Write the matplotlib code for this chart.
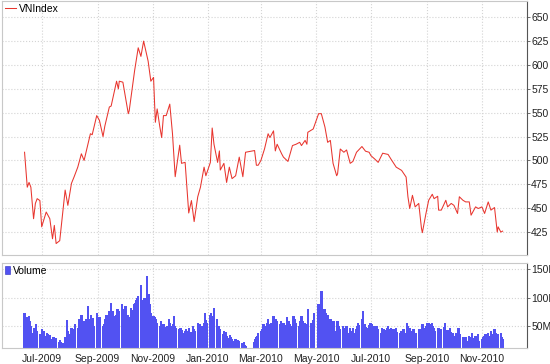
import matplotlib
matplotlib.use("Agg")
import matplotlib.pyplot as plt
import matplotlib.dates as mdates
from matplotlib.patches import Patch
import pandas as pd

# VNIndex close
price_dates = [
    "2009-06-12", "2009-06-15", "2009-06-17", "2009-06-19", "2009-06-22", "2009-06-24",
    "2009-06-26", "2009-06-29", "2009-07-01", "2009-07-06", "2009-07-10", "2009-07-13",
    "2009-07-15", "2009-07-17", "2009-07-21", "2009-07-27", "2009-07-30", "2009-08-03",
    "2009-08-06", "2009-08-10", "2009-08-14", "2009-08-17", "2009-08-24", "2009-08-26",
    "2009-08-31", "2009-09-03", "2009-09-07", "2009-09-09", "2009-09-14", "2009-09-16",
    "2009-09-22", "2009-09-24", "2009-09-25", "2009-09-29", "2009-10-05", "2009-10-06",
    "2009-10-12", "2009-10-16", "2009-10-19", "2009-10-22", "2009-10-27", "2009-10-30",
    "2009-11-02", "2009-11-04", "2009-11-06", "2009-11-09", "2009-11-11", "2009-11-13",
    "2009-11-16", "2009-11-20", "2009-11-23", "2009-11-26", "2009-12-01", "2009-12-03",
    "2009-12-07", "2009-12-11", "2009-12-14", "2009-12-17", "2009-12-21", "2009-12-24",
    "2009-12-28", "2009-12-30", "2010-01-04", "2010-01-06", "2010-01-08", "2010-01-12",
    "2010-01-14", "2010-01-15", "2010-01-19", "2010-01-22", "2010-01-25", "2010-01-28",
    "2010-02-01", "2010-02-05", "2010-02-09", "2010-02-12", "2010-02-22", "2010-02-24",
    "2010-02-26", "2010-03-01", "2010-03-05", "2010-03-09", "2010-03-11", "2010-03-15",
    "2010-03-17", "2010-03-19", "2010-03-24", "2010-03-26", "2010-03-31", "2010-04-05",
    "2010-04-09", "2010-04-13", "2010-04-15", "2010-04-19", "2010-04-21", "2010-04-22",
    "2010-04-28", "2010-05-04", "2010-05-07", "2010-05-11", "2010-05-14", "2010-05-17",
    "2010-05-20", "2010-05-24", "2010-05-25", "2010-05-28", "2010-06-01", "2010-06-04",
    "2010-06-08", "2010-06-11", "2010-06-15", "2010-06-21", "2010-06-25", "2010-06-29",
    "2010-07-01", "2010-07-05", "2010-07-09", "2010-07-14", "2010-07-20", "2010-07-23",
    "2010-07-29", "2010-08-04", "2010-08-09", "2010-08-11", "2010-08-13", "2010-08-16",
    "2010-08-19", "2010-08-23", "2010-08-26", "2010-08-27", "2010-08-31", "2010-09-03",
    "2010-09-07", "2010-09-09", "2010-09-13", "2010-09-14", "2010-09-17", "2010-09-22",
    "2010-09-24", "2010-09-28", "2010-10-01", "2010-10-05", "2010-10-07", "2010-10-11",
    "2010-10-14", "2010-10-18", "2010-10-20", "2010-10-25", "2010-10-28", "2010-11-01",
    "2010-11-04", "2010-11-08", "2010-11-11", "2010-11-15", "2010-11-18", "2010-11-19",
    "2010-11-22", "2010-11-24",
]
price_values = [
    508.6, 472, 477, 472, 439, 455,
    460, 458, 430.5, 446, 439, 418,
    432, 413, 416, 469, 453, 476,
    483, 493, 507, 500, 528, 527,
    547, 542, 525, 536, 556, 557,
    583, 575, 583, 582, 549, 552,
    594, 618, 609, 625, 604, 583,
    587, 540, 554, 535, 524, 547,
    547, 559, 528, 483, 516, 497,
    498, 445, 458, 436, 462, 472,
    493, 484, 498, 534, 517, 498,
    510, 490, 497, 477, 493, 481,
    484, 503.5, 483, 508.6, 510.4, 495,
    495, 500, 512, 528, 524, 531,
    510, 517, 507, 503.5, 499, 515.6,
    517, 519, 515.6, 521, 517, 529.5,
    533, 549, 549, 535, 519, 521,
    497, 484, 486, 512, 508.6, 511,
    497, 499, 508.6, 514.6, 509.7, 508.6,
    505, 501.7, 498, 507.6, 506.3, 501.7,
    493, 489.6, 482.6, 462, 449.7, 463.5,
    451.4, 455, 429, 424.4, 444.5, 458.3,
    464.6, 460, 462.5, 448, 448, 458.3,
    451.4, 455, 453, 444.5, 462, 458.3,
    456.6, 456.6, 442.7, 451.4, 449.7, 451.4,
    444.5, 456.6, 448, 450.7, 425, 430.5,
    425, 426,
]

# daily volume (millions), one list per month of trading days
vol_2009_06 = [73, 65, 56, 68, 58, 50, 38, 47, 32, 53, 41, 36, 30]
vol_2009_07 = [44, 38, 41, 32, 38, 35, 29, 34, 27, 31, 26, 24, 28, 22, 25, 21, 18, 20, 30, 26, 60, 41, 35]
vol_2009_08 = [47, 38, 44, 40, 53, 47, 62, 50, 56, 70, 59, 44, 62, 58, 85, 62, 70, 56, 64, 50, 73]
vol_2009_09 = [56, 65, 58, 50, 53, 62, 57, 70, 76, 66, 91, 62, 76, 68, 70, 79, 72, 76, 88, 80, 79]
vol_2009_10 = [76, 85, 70, 44, 65, 82, 78, 88, 91, 95, 100, 103, 123, 88, 91, 95, 100, 138, 97, 106, 88, 73]
vol_2009_11 = [68, 65, 60, 62, 56, 50, 59, 52, 47, 53, 48, 50, 47, 62, 55, 50, 53, 68, 50, 47, 44]
vol_2009_12 = [38, 47, 42, 38, 41, 44, 41, 38, 47, 40, 38, 50, 45, 41, 56, 44, 53, 48, 50, 56, 73, 60, 56]
vol_2010_01 = [70, 72, 68, 64, 82, 62, 41, 50, 44, 38, 35, 41, 38, 40, 32, 29, 34, 30, 27, 24]
vol_2010_02 = [27, 24, 26, 21, 24, 20, 18, 21, 17, 15, 21, 27, 30, 32, 38]
vol_2010_03 = [41, 45, 47, 53, 50, 56, 62, 53, 48, 56, 68, 55, 56, 62, 58, 53, 59, 44, 50, 56, 52, 65, 47]
vol_2010_04 = [59, 53, 50, 68, 53, 62, 56, 50, 59, 53, 68, 59, 56, 53, 50, 79, 56, 53, 60, 73]
vol_2010_05 = [88, 85, 79, 112, 80, 79, 73, 59, 70, 62, 50, 59, 55, 59, 41, 59, 50, 44, 41, 50]
vol_2010_06 = [41, 47, 44, 50, 38, 47, 41, 35, 47, 38, 44, 50, 56, 52, 62, 76, 50, 53, 48, 47, 52, 56]
vol_2010_07 = [56, 53, 50, 47, 41, 50, 44, 38, 47, 41, 44, 42, 47, 50, 41, 45, 47, 44, 41, 43, 47, 40]
vol_2010_08 = [38, 41, 35, 40, 44, 38, 56, 50, 44, 47, 41, 44, 38, 35, 38, 35, 44, 38, 42, 53, 47, 50]
vol_2010_09 = [56, 56, 53, 55, 50, 47, 41, 44, 47, 38, 44, 41, 48, 56, 41, 38, 42, 47, 40, 35, 38]
vol_2010_10 = [32, 38, 35, 47, 35, 32, 30, 27, 29, 30, 24, 32, 27, 30, 38, 29, 32, 27, 30, 35, 24]
vol_2010_11 = [27, 30, 32, 29, 35, 38, 33, 29, 41, 36, 44, 38, 35, 32, 36, 38, 30, 27]

holidays = ["2009-09-02", "2010-01-01", "2010-02-15", "2010-02-16", "2010-02-17",
            "2010-02-18", "2010-02-19", "2010-04-23", "2010-04-30", "2010-05-03",
            "2010-09-02"]

volume = (vol_2009_06 + vol_2009_07 + vol_2009_08 + vol_2009_09 + vol_2009_10 + vol_2009_11
          + vol_2009_12 + vol_2010_01 + vol_2010_02 + vol_2010_03 + vol_2010_04 + vol_2010_05
          + vol_2010_06 + vol_2010_07 + vol_2010_08 + vol_2010_09 + vol_2010_10 + vol_2010_11)

days = pd.bdate_range("2009-06-12", "2010-11-24")
days = days[~days.isin(pd.to_datetime(holidays))]
n = min(len(days), len(volume))
vol_days = days[:n]
vol_vals = [v * 1e6 for v in volume[:n]]

px = pd.to_datetime(price_dates)

plt.rcParams['font.family'] = ['DejaVu Sans Condensed', 'Liberation Sans Narrow', 'Liberation Sans']

fig = plt.figure(figsize=(5.5, 3.64), dpi=100, facecolor="white")
W, H = 550.0, 364.0
ax1 = fig.add_axes([2 / W, 1 - 255 / H, 525 / W, 254 / H])
ax2 = fig.add_axes([2 / W, 1 - 348 / H, 525 / W, 85 / H])

grid_col = "#d4d4d4"
frame_col = "#c8c8c8"
axis_col = "#555555"
xmin, xmax = pd.Timestamp("2009-05-18"), pd.Timestamp("2010-12-21")

# price panel
ax1.plot(px, price_values, color="#e8352e", linewidth=0.75, label="VNIndex")
ax1.set_ylim(401, 667)
ax1.set_yticks([425, 450, 475, 500, 525, 550, 575, 600, 625, 650])

# volume panel
ax2.bar(vol_days, vol_vals, width=2.6, color="#5252f2", linewidth=0, label="Volume")
ax2.set_ylim(11e6, 161e6)
ax2.set_yticks([50e6, 100e6, 150e6])
ax2.set_yticklabels(["50M", "100M", "150M"])

for ax in (ax1, ax2):
    ax.set_xlim(xmin, xmax)
    ax.xaxis.set_major_locator(mdates.MonthLocator(bymonth=[1, 3, 5, 7, 9, 11]))
    ax.xaxis.set_major_formatter(mdates.DateFormatter("%b-%Y"))
    ax.yaxis.tick_right()
    ax.grid(True, color=grid_col, linestyle=":", linewidth=0.8)
    ax.set_axisbelow(True)
    for s in ("top", "left", "bottom"):
        ax.spines[s].set_color(frame_col)
        ax.spines[s].set_linewidth(0.8)
    ax.spines["right"].set_color(axis_col)
    ax.spines["right"].set_linewidth(0.8)
    ax.tick_params(axis="y", which="both", length=2.5, width=0.6, color=axis_col,
                   labelsize=7.5, labelcolor="#222222", pad=0.5)
    ax.tick_params(axis="x", length=0, labelsize=7.5, labelcolor="#222222", pad=4)

ax1.tick_params(axis="x", labelbottom=False)

leg1 = ax1.legend(loc="upper left", frameon=False, fontsize=7.5, handlelength=1.1,
                  handletextpad=0.3, borderaxespad=0.15, borderpad=0.1)
leg2 = ax2.legend(handles=[Patch(facecolor="#5252f2", edgecolor="#2a2ac0", linewidth=0.4)],
                  labels=["Volume"], loc="upper left", frameon=False, fontsize=7.5,
                  handlelength=0.5, handleheight=0.9, handletextpad=0.3,
                  borderaxespad=0.15, borderpad=0.1)

fig.savefig("out.png", dpi=100, facecolor="white")
